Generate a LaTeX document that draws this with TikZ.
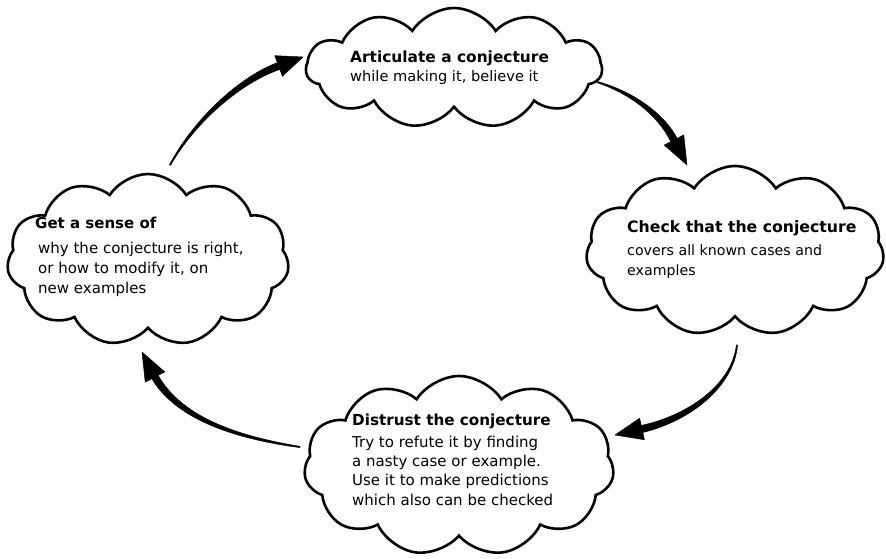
\documentclass[tikz,border=0pt]{standalone}
\usepackage{fontspec}
\setmainfont{DejaVu Sans}
\usetikzlibrary{shapes.symbols,calc}
\tikzset{
  puff/.style={cloud, cloud puffs=11, cloud puff arc=115, cloud ignores aspect,
    draw=black, line width=2.6pt, inner sep=0pt},
  ln/.style={anchor=base west, inner sep=0pt, font=\fontsize{#1}{20}\selectfont},
  hdln/.style={anchor=base west, inner sep=0pt, font=\fontsize{#1}{20}\selectfont\bfseries},
  taper/.style={fill=black, draw=black, line width=0.5pt, line join=round}
}
% #1 start, #2 ctrl1, #3 ctrl2, #4 head base, #5 tip
\newcommand\taperarrow[5]{%
  \path[taper] ($(#1)!0.6pt!90:(#2)$) .. controls ($(#2)!1.6pt!90:(#3)$) and ($(#3)!3pt!90:(#4)$) .. ($(#4)!3.6pt!90:(#5)$)
    -- ($(#4)!11pt!90:(#5)$) -- (#5) -- ($(#4)!11pt!-90:(#5)$)
    -- ($(#4)!3.6pt!-90:(#5)$) .. controls ($(#3)!3pt!-90:(#4)$) and ($(#2)!1.6pt!-90:(#3)$) .. ($(#1)!0.6pt!-90:(#2)$) -- cycle;}
\begin{document}
\begin{tikzpicture}[x=1pt,y=-1pt]
\useasboundingbox (0,0) rectangle (886,559);
% clouds
\node[puff, minimum width=296pt, minimum height=120pt] (ctop) at (454,68) {};
\node[puff, minimum width=298pt, minimum height=170pt] (cright) at (735,251) {};
\node[puff, minimum width=282pt, minimum height=172pt] (cleft) at (148,260) {};
\node[puff, minimum width=310pt, minimum height=180pt] (cbot) at (459,466) {};
% top texts
\node[hdln=15.4] (t1) at (350,62.5) {Articulate a conjecture};
\node[ln=14.6] (t2) at (350,81.5) {while making it, believe it};
% right texts
\node[hdln=15.7] (r1) at (627,232.5) {Check that the conjecture};
\node[ln=14.2] (r2) at (627,255) {covers all known cases and};
\node[ln=14.2] (r3) at (627,275) {examples};
% left texts
\node[hdln=15] (l1) at (35,228.5) {Get a sense of};
\node[ln=15] (l2) at (38,253) {why the conjecture is right,};
\node[ln=15] (l3) at (38,273) {or how to modify it, on};
\node[ln=15] (l4) at (38,293) {new examples};
% bottom texts
\node[hdln=15.2] (b1) at (352,425.5) {Distrust the conjecture};
\node[ln=15] (b2) at (352,447) {Try to refute it by finding};
\node[ln=15] (b3) at (352,466) {a nasty case or example.};
\node[ln=15] (b4) at (352,485.5) {Use it to make predictions};
\node[ln=15] (b5) at (352,505) {which also can be checked};
% arrow coordinates
\coordinate (a1s) at (170,165); \coordinate (a1c) at (195,120); \coordinate (a1d) at (240,80);
\coordinate (a1b) at (278.6,66); \coordinate (a1t) at (303,57);
\coordinate (a2s) at (597,82); \coordinate (a2c) at (630,92); \coordinate (a2d) at (660,113);
\coordinate (a2b) at (674,140); \coordinate (a2t) at (687,165);
\coordinate (a3s) at (737,345); \coordinate (a3c) at (733,385); \coordinate (a3d) at (690,418);
\coordinate (a3b) at (642,429); \coordinate (a3t) at (615,435);
\coordinate (a4s) at (300,447); \coordinate (a4c) at (240,438); \coordinate (a4d) at (180,420);
\coordinate (a4b) at (155,377); \coordinate (a4t) at (142,352);
\taperarrow{a1s}{a1c}{a1d}{a1b}{a1t}
\taperarrow{a2s}{a2c}{a2d}{a2b}{a2t}
\taperarrow{a3s}{a3c}{a3d}{a3b}{a3t}
\taperarrow{a4s}{a4c}{a4d}{a4b}{a4t}
\end{tikzpicture}
\end{document}
